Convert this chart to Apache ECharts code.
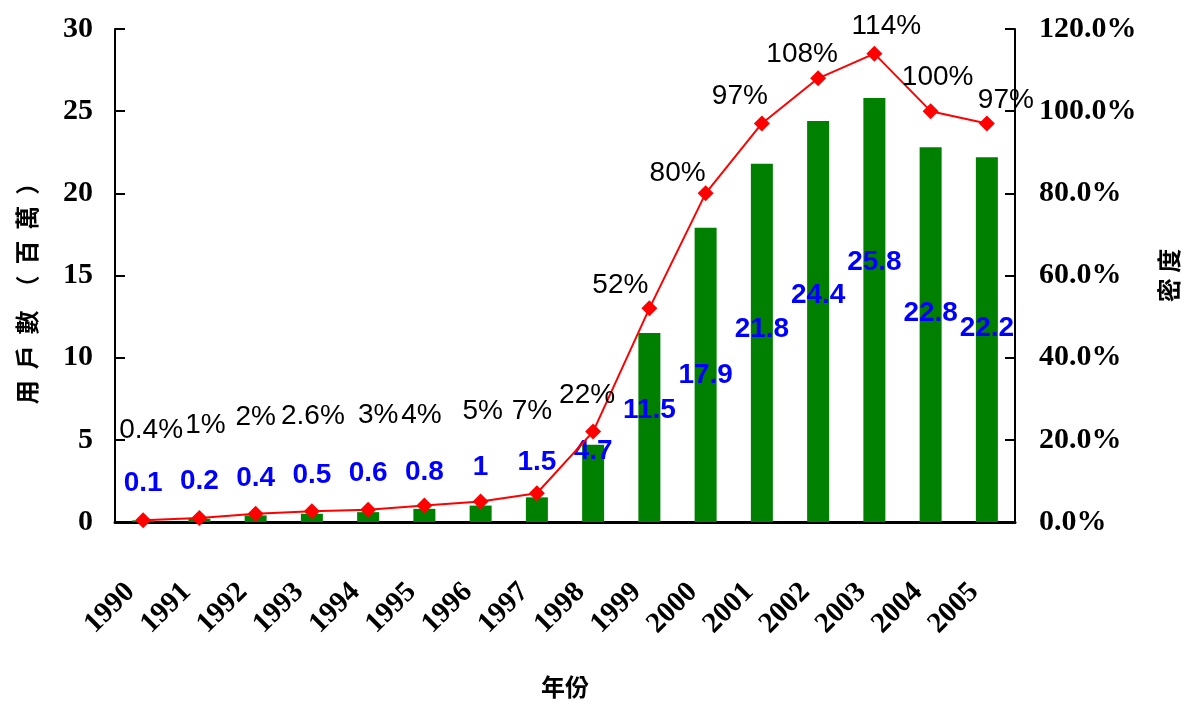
<!DOCTYPE html>
<html><head><meta charset="utf-8">
<script src="https://cdn.jsdelivr.net/npm/echarts@6/dist/echarts.min.js"></script>
<style>html,body{margin:0;padding:0;background:#fff}#c{width:1189px;height:704px}</style>
</head><body><div id="c"></div>
<script>
const years = ['1990','1991','1992','1993','1994','1995','1996','1997','1998','1999','2000','2001','2002','2003','2004','2005'];
const users = [0.1,0.2,0.4,0.5,0.6,0.8,1,1.5,4.7,11.5,17.9,21.8,24.4,25.8,22.8,22.2];
const density = [0.4,1,2,2.6,3,4,5,7,22,52,80,97,108,114,100,97];
const leftTicks = {min:0, max:30, interval:5};
const rightTicks = {min:0, max:120, interval:20};

// label placement (style only)
const barLabelDy = [-37,-37,-37,-39,-39,-37,-38,-35,7,77,147,166,174,164,166,171];
const lineLabelOff = [[8,-90],[6,-93],[0,-97],[1,-95],[10,-94],[-3,-90],[2,-90],[-5,-82],[-6,-36],[-29,-23],[-28,-20],[-22,-27],[-16,-24],[12,-27],[7,-34],[19,-23]];

const serif = '"Liberation Serif","Times New Roman",serif';
const sans = '"Liberation Sans",Arial,sans-serif';
const cjk = '"Noto Sans CJK TC","Noto Sans CJK SC",sans-serif';

const chart = echarts.init(document.getElementById('c'));
chart.setOption({
  animation:false,
  grid:{left:115,right:174,top:29,bottom:182,containLabel:false,outerBoundsMode:'none'},
  xAxis:{
    type:'category', data:years, boundaryGap:true,
    name:'年份', nameLocation:'middle', nameGap:153,
    nameTextStyle:{fontFamily:cjk,fontSize:24,fontWeight:'bold',color:'#000'},
    axisLine:{lineStyle:{color:'#000',width:3}},
    axisTick:{inside:true,length:10,lineStyle:{color:'#000',width:2}},
    axisLabel:{rotate:45,margin:53,interval:0,padding:[0,18,0,0],fontFamily:serif,fontSize:29,fontWeight:'bold',color:'#000'}
  },
  yAxis:[{
    type:'value', min:leftTicks.min, max:leftTicks.max, interval:leftTicks.interval,
    name:'用  戶  數  （  百  萬  ）', nameLocation:'middle', nameRotate:90, nameGap:76,
    nameTextStyle:{fontFamily:cjk,fontSize:24,fontWeight:'bold',color:'#000',padding:[0,0,0,-24]},
    axisLine:{show:true,lineStyle:{color:'#000',width:2}},
    axisTick:{show:true,inside:true,length:10,lineStyle:{color:'#000',width:2}},
    axisLabel:{margin:22,fontFamily:serif,fontSize:30,fontWeight:'bold',color:'#000'},
    splitLine:{show:false}
  },{
    type:'value', min:rightTicks.min, max:rightTicks.max, interval:rightTicks.interval, position:'right',
    name:'密 度', nameLocation:'middle', nameRotate:90, nameGap:142,
    nameTextStyle:{fontFamily:cjk,fontSize:24,fontWeight:'bold',color:'#000'},
    axisLine:{show:true,lineStyle:{color:'#000',width:2}},
    axisTick:{show:true,inside:true,length:10,lineStyle:{color:'#000',width:2}},
    axisLabel:{margin:24,fontFamily:serif,fontSize:30,fontWeight:'bold',color:'#000',formatter:v=>v.toFixed(1)+'%'},
    splitLine:{show:false}
  }],
  series:[{
    type:'bar', yAxisIndex:0, barWidth:22,
    itemStyle:{color:'#008000'},
    data:users.map((v,i)=>({value:v,label:{offset:[0,barLabelDy[i]]}})),
    label:{show:true,position:'top',distance:0,verticalAlign:'middle',fontFamily:sans,fontSize:28,fontWeight:'bold',color:'#0000FF'},
    z:2
  },{
    type:'line', yAxisIndex:1,
    symbol:'diamond', symbolSize:16,
    lineStyle:{color:'#FF0000',width:2},
    itemStyle:{color:'#FF0000'},
    data:density.map((v,i)=>({value:v,label:{offset:lineLabelOff[i]}})),
    label:{show:true,position:'inside',formatter:'{c}%',fontFamily:sans,fontSize:28,color:'#000'},
    z:3
  }]
});
</script></body></html>
